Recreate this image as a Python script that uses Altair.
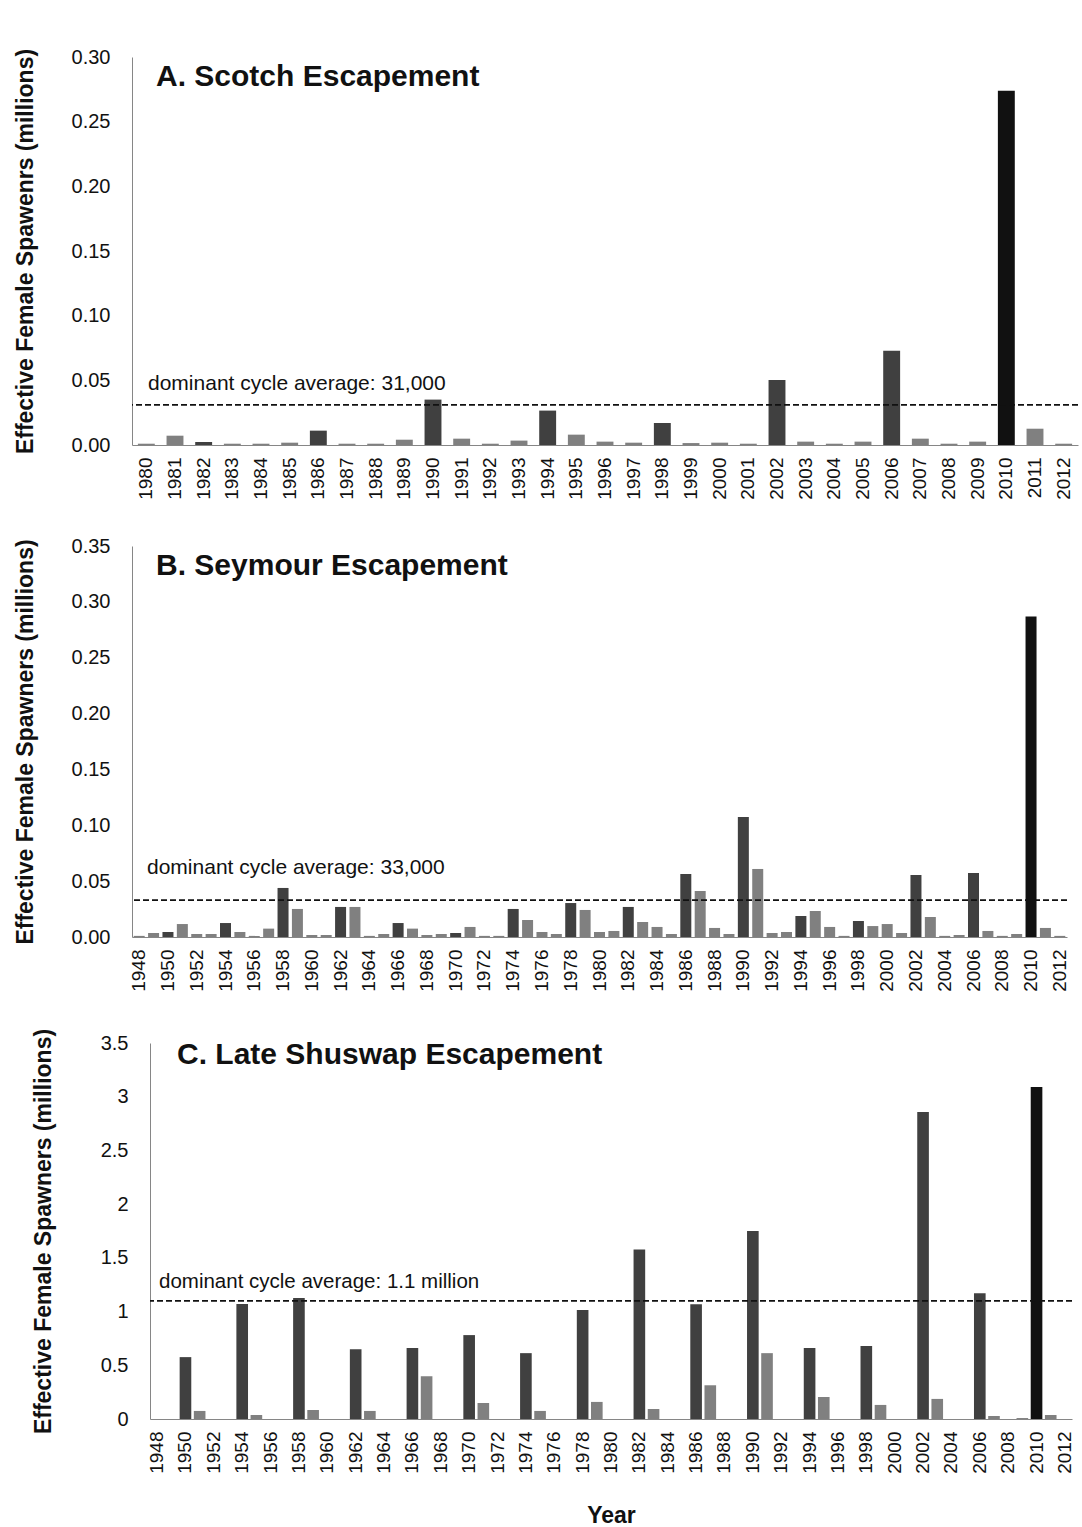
import altair as alt
import pandas as pd

FONT = "Liberation Sans"

# ---- A. Scotch escapement (millions of effective female spawners) ----
scotch_years = list(range(1980, 2013))
scotch_values = [
    0.001, 0.0072, 0.0023, 0.001, 0.001, 0.0018, 0.0111, 0.001, 0.001, 0.0041,
    0.0351, 0.0049, 0.001, 0.0034, 0.0266, 0.008, 0.0026, 0.0018, 0.017, 0.0015,
    0.0018, 0.001, 0.0503, 0.0026, 0.001, 0.0026, 0.0728, 0.0049, 0.001, 0.0026,
    0.274, 0.0126, 0.001,
]
scotch_avg = 0.031
scotch_avg_label = "dominant cycle average: 31,000"

# ---- B. Seymour escapement ----
seymour_years = list(range(1948, 2013))
seymour_values = [
    0.001, 0.0036, 0.0045, 0.0116, 0.0027, 0.0027, 0.0125, 0.0045, 0.001, 0.0075,
    0.0439, 0.0251, 0.0018, 0.0018, 0.0269, 0.0269, 0.001, 0.0027, 0.0125, 0.0075,
    0.0018, 0.0027, 0.0036, 0.009, 0.001, 0.001, 0.0251, 0.0152, 0.0045, 0.0027,
    0.0304, 0.0242, 0.0045, 0.0054, 0.0269, 0.0134, 0.009, 0.0027, 0.0564, 0.0412,
    0.0081, 0.0027, 0.1074, 0.0609, 0.0036, 0.0045, 0.0188, 0.0233, 0.009, 0.001,
    0.0143, 0.0098, 0.0116, 0.0036, 0.0555, 0.0179, 0.001, 0.0018, 0.0573, 0.0054,
    0.001, 0.0027, 0.287, 0.0081, 0.001,
]
seymour_avg = 0.033
seymour_avg_label = "dominant cycle average: 33,000"

# ---- C. Late Shuswap escapement ----
shuswap_years = list(range(1948, 2013))
shuswap_values = [
    0, 0, 0.576, 0.075, 0, 0, 1.071, 0.037, 0, 0,
    1.127, 0.084, 0, 0, 0.65, 0.075, 0, 0, 0.66, 0.398,
    0, 0, 0.781, 0.149, 0, 0, 0.613, 0.075, 0, 0,
    1.015, 0.159, 0, 0, 1.577, 0.093, 0, 0, 1.067, 0.314,
    0, 0, 1.75, 0.613, 0, 0, 0.66, 0.205, 0, 0,
    0.679, 0.131, 0, 0, 2.857, 0.187, 0, 0, 1.17, 0.028,
    0, 0.009, 3.09, 0.037, 0,
]
shuswap_avg = 1.1
shuswap_avg_label = "dominant cycle average: 1.1 million"

AXIS_GREY = "#868686"
DOMINANT = "#404040"


def cycle_group(year):
    if year == 2010:
        return "peak"
    return "dominant" if year % 4 == 2 else "other"


def panel(years, values, avg, avg_label, title, y_title, y_ticks, y_format,
          width, height, other_color, peak_color, label_years, pad_inner,
          label_dx, label_dy, label_size, title_x, title_y, x_title=None):
    df = pd.DataFrame({
        "year": years,
        "value": values,
        "grp": [cycle_group(y) for y in years],
    })

    x_axis = alt.Axis(
        labelAngle=-90, values=label_years, ticks=False, labelPadding=12,
        labelFontSize=19, labelFont=FONT, labelColor="#111",
        domainColor=AXIS_GREY, domainWidth=1,
        title=x_title, titleFontSize=23, titleFont=FONT,
        titleFontWeight="bold", titlePadding=31, titleColor="#111",
    )
    y_axis = alt.Axis(
        values=y_ticks, format=y_format, grid=False, ticks=False,
        labelPadding=22, labelFontSize=20, labelFont=FONT, labelColor="#111",
        domainColor=AXIS_GREY, domainWidth=1,
        title=y_title, titleFontSize=23, titleFont=FONT,
        titleFontWeight="bold", titleColor="#111", titlePadding=25,
        minExtent=70, maxExtent=70,
    )
    x = alt.X("year:O", sort=years,
              scale=alt.Scale(paddingInner=pad_inner, paddingOuter=pad_inner / 2),
              axis=x_axis)
    y = alt.Y("value:Q", scale=alt.Scale(domain=[0, y_ticks[-1]], nice=False),
              axis=y_axis)

    bars = alt.Chart(df).mark_bar().encode(
        x=x, y=y,
        color=alt.Color("grp:N", legend=None, scale=alt.Scale(
            domain=["dominant", "other", "peak"],
            range=[DOMINANT, other_color, peak_color])),
    )

    avg_df = pd.DataFrame({"value": [avg], "label": [avg_label]})
    avg_line = alt.Chart(avg_df).mark_rule(
        color="#111", strokeWidth=1.6, strokeDash=[6, 3]
    ).encode(y="value:Q")
    avg_text = alt.Chart(avg_df).mark_text(
        align="left", baseline="alphabetic", dy=label_dy,
        font=FONT, fontSize=label_size, color="#111",
    ).encode(x=alt.value(label_dx), y="value:Q", text="label:N")

    title_df = pd.DataFrame({"t": [title]})
    title_text = alt.Chart(title_df).mark_text(
        align="left", baseline="top", font=FONT, fontSize=30,
        fontWeight="bold", color="#111",
    ).encode(x=alt.value(title_x), y=alt.value(title_y), text="t:N")

    return alt.layer(bars, avg_line, avg_text, title_text).properties(
        width=width, height=height)


even_years = [y for y in range(1948, 2013, 2)]

chart_a = panel(
    scotch_years, scotch_values, scotch_avg, scotch_avg_label,
    "A. Scotch Escapement", "Effective Female Spawenrs (millions)",
    [0, 0.05, 0.10, 0.15, 0.20, 0.25, 0.30], ".2f",
    946, 388, "#808080", "#111111", scotch_years, 0.41,
    16, -15, 21, 24, 5,
)
chart_b = panel(
    seymour_years, seymour_values, seymour_avg, seymour_avg_label,
    "B. Seymour Escapement", "Effective Female Spawners (millions)",
    [0, 0.05, 0.10, 0.15, 0.20, 0.25, 0.30, 0.35], ".2f",
    935, 391, "#a6a6a6", "#000000", even_years, 0.235,
    15, -26, 21, 24, 5,
)
chart_c = panel(
    shuswap_years, shuswap_values, shuswap_avg, shuswap_avg_label,
    "C. Late Shuswap Escapement", "Effective Female Spawners (millions)",
    [0, 0.5, 1, 1.5, 2, 2.5, 3, 3.5], "~g",
    922, 376, "#a6a6a6", "#000000", even_years, 0.18,
    9, -13, 20.5, 27, -3, x_title="Year",
)

# narrow blank column that shifts the third panel's plot area to the right
spacer = alt.Chart(pd.DataFrame({"v": [0]})).mark_point(opacity=0).encode(
    x=alt.X("v:Q", axis=None), y=alt.Y("v:Q", axis=None)
).properties(width=18, height=10)

row_c = alt.hconcat(spacer, chart_c, spacing=0, bounds="flush")

chart = alt.vconcat(chart_a, chart_b, row_c, spacing=36).properties(
    padding={"left": 14, "top": 47, "right": 0, "bottom": 0},
    background="white",
).configure(
    font=FONT,
    view=alt.ViewConfig(stroke=None),
)

chart.save("out.html", embed_options={"renderer": "svg", "actions": False})
